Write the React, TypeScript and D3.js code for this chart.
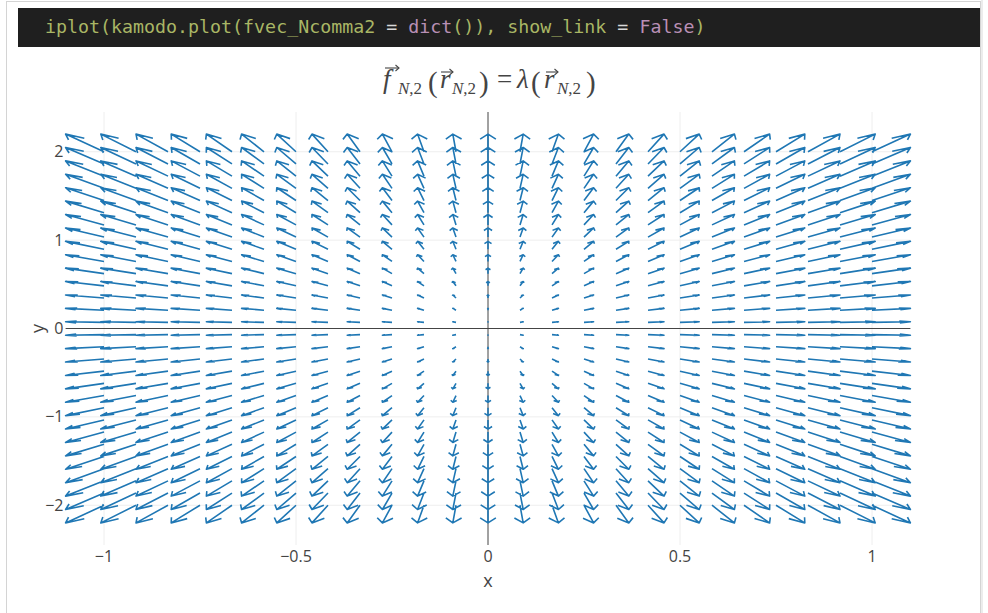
import React, { useEffect } from "react";
import * as d3 from "d3";

// Sample grid of the vector field (x: 25 columns, y: 30 rows)
const xGrid = [
  -1, -0.9167, -0.8333, -0.75, -0.6667, -0.5833, -0.5, -0.4167, -0.3333, -0.25,
  -0.1667, -0.0833, 0, 0.0833, 0.1667, 0.25, 0.3333, 0.4167, 0.5, 0.5833,
  0.6667, 0.75, 0.8333, 0.9167, 1,
];
const yGrid = [
  -2, -1.8621, -1.7241, -1.5862, -1.4483, -1.3103, -1.1724, -1.0345, -0.8966,
  -0.7586, -0.6207, -0.4828, -0.3448, -0.2069, -0.069, 0.069, 0.2069, 0.3448,
  0.4828, 0.6207, 0.7586, 0.8966, 1.0345, 1.1724, 1.3103, 1.4483, 1.5862,
  1.7241, 1.8621, 2,
];

// f(r) = λ(r) = r : the plotted field is the identity map
const field = (x: number, y: number): [number, number] => [x, y];

const xTicks = [-1, -0.5, 0, 0.5, 1];
const yTicks = [-2, -1, 0, 1, 2];

// quiver settings
const QUIVER_SCALE = 0.1;
const ARROW_SCALE = 0.3;
const ARROW_ANGLE = Math.PI / 9;

const W = 988;
const H = 613;
const plot = { left: 65.6, right: 910.4, top: 112, bottom: 545 };

const fmt = (v: number) => {
  const s = d3.format("")(v);
  return s.replace("-", "\u2212");
};

function quiverPath(
  xs: number[],
  ys: number[],
  sx: d3.ScaleLinear<number, number>,
  sy: d3.ScaleLinear<number, number>
) {
  const p = d3.path();
  for (const y of ys) {
    for (const x of xs) {
      const [fu, fv] = field(x, y);
      const u = fu * QUIVER_SCALE;
      const v = fv * QUIVER_SCALE;
      const ex = x + u;
      const ey = y + v;
      const L = Math.hypot(u, v) * ARROW_SCALE;
      const ang = Math.atan2(v, u);
      const a1 = ang + ARROW_ANGLE;
      const a2 = ang - ARROW_ANGLE;
      const p1x = ex - L * Math.cos(a1);
      const p1y = ey - L * Math.sin(a1);
      const p2x = ex - L * Math.cos(a2);
      const p2y = ey - L * Math.sin(a2);
      p.moveTo(sx(x), sy(y));
      p.lineTo(sx(ex), sy(ey));
      p.moveTo(sx(p1x), sy(p1y));
      p.lineTo(sx(ex), sy(ey));
      p.lineTo(sx(p2x), sy(p2y));
    }
  }
  return p.toString();
}

function VecArrow({ x1, x2, y }: { x1: number; x2: number; y: number }) {
  return (
    <g stroke="#444" strokeWidth={1.1} fill="none">
      <line x1={x1} x2={x2} y1={y} y2={y} />
      <path d={`M${x2 - 3.5},${y - 3} L${x2},${y} L${x2 - 3.5},${y + 3}`} />
    </g>
  );
}

export default function App() {
  useEffect(() => {
    document.body.style.margin = "0";
  }, []);

  const sx = d3.scaleLinear().domain([-1.1, 1.1]).range([plot.left, plot.right]);
  const sy = d3.scaleLinear().domain([-2.45, 2.45]).range([plot.bottom, plot.top]);

  const serif = "'Liberation Serif', 'DejaVu Serif', serif";
  const sans = "'Open Sans', 'Noto Sans', sans-serif";
  const mono = "'DejaVu Sans Mono', 'Liberation Mono', monospace";

  const green = "#a9b665";
  const purple = "#b98fb5";
  const light = "#d8d8d8";

  return (
    <svg width={W} height={H} style={{ display: "block" }} xmlns="http://www.w3.org/2000/svg">
      <rect x={0} y={0} width={W} height={H} fill="#ffffff" />
      {/* notebook cell frame */}
      <rect x={6.5} y={1.5} width={974} height={H + 10} fill="#ffffff" stroke="#d4d4d4" />
      <line x1={982} x2={982} y1={0} y2={H} stroke="#ececec" strokeWidth={2} />

      {/* code cell */}
      <rect x={18} y={8} width={962} height={39} fill="#1f1f1f" />
      <text x={45} y={33} fontFamily={mono} fontSize={18.3} xmlSpace="preserve">
        <tspan fill={green}>iplot(kamodo.plot(fvec_Ncomma2 </tspan>
        <tspan fill={light}>=</tspan>
        <tspan fill={green}> </tspan>
        <tspan fill={purple}>dict</tspan>
        <tspan fill={green}>()), show_link </tspan>
        <tspan fill={light}>=</tspan>
        <tspan fill={green}> </tspan>
        <tspan fill={purple}>False</tspan>
        <tspan fill={green}>)</tspan>
      </text>

      {/* title: f_{N,2}(r_{N,2}) = λ(r_{N,2}) */}
      <g fill="#444" fontFamily={serif}>
        <text x={383} y={88} fontSize={27} fontStyle="italic">f</text>
        <VecArrow x1={385} x2={399} y={68} />
        <text x={398} y={94} fontSize={17}>
          <tspan fontStyle="italic">N</tspan>,2
        </text>
        <text x={428} y={92} fontSize={29}>(</text>
        <text x={440} y={88} fontSize={27} fontStyle="italic">r</text>
        <VecArrow x1={441} x2={453} y={72} />
        <text x={452} y={94} fontSize={17}>
          <tspan fontStyle="italic">N</tspan>,2
        </text>
        <text x={479} y={92} fontSize={29}>)</text>
        <text x={497} y={88} fontSize={27}>=</text>
        <text x={517} y={88} fontSize={27} fontStyle="italic">λ</text>
        <text x={531} y={92} fontSize={29}>(</text>
        <text x={544} y={88} fontSize={27} fontStyle="italic">r</text>
        <VecArrow x1={546} x2={558} y={72} />
        <text x={557} y={94} fontSize={17}>
          <tspan fontStyle="italic">N</tspan>,2
        </text>
        <text x={586} y={92} fontSize={29}>)</text>
      </g>

      {/* grid */}
      <g stroke="#eeeeee" strokeWidth={1}>
        {xTicks.filter((t) => t !== 0).map((t) => (
          <line key={`gx${t}`} x1={sx(t)} x2={sx(t)} y1={plot.top} y2={plot.bottom} />
        ))}
        {yTicks.filter((t) => t !== 0).map((t) => (
          <line key={`gy${t}`} x1={plot.left} x2={plot.right} y1={sy(t)} y2={sy(t)} />
        ))}
      </g>
      {/* zero lines */}
      <g stroke="#444" strokeWidth={1}>
        <line x1={sx(0)} x2={sx(0)} y1={plot.top} y2={plot.bottom} />
        <line x1={plot.left} x2={plot.right} y1={sy(0)} y2={sy(0)} />
      </g>

      {/* quiver arrows */}
      <path
        d={quiverPath(xGrid, yGrid, sx, sy)}
        fill="none"
        stroke="#1f77b4"
        strokeWidth={1.6}
        strokeLinejoin="round"
        strokeLinecap="butt"
      />

      {/* tick labels */}
      <g fill="#444" fontFamily={sans} fontSize={16}>
        {xTicks.map((t) => (
          <text key={`tx${t}`} x={sx(t)} y={562} textAnchor="middle">
            {fmt(t)}
          </text>
        ))}
        {yTicks.map((t) => (
          <text key={`ty${t}`} x={63.5} y={sy(t) + 5.6} textAnchor="end">
            {fmt(t)}
          </text>
        ))}
      </g>
      {/* axis titles */}
      <g fill="#444" fontFamily={sans} fontSize={18}>
        <text x={sx(0)} y={587} textAnchor="middle">x</text>
        <text transform={`translate(44,${sy(0)}) rotate(-90)`} textAnchor="middle">y</text>
      </g>
    </svg>
  );
}
